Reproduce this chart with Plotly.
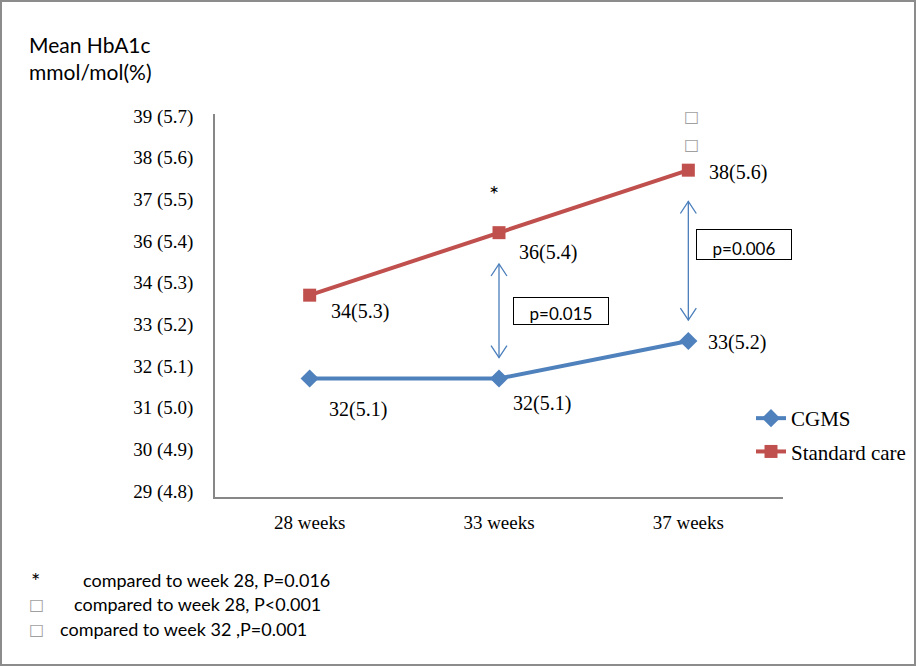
import plotly.graph_objects as go

# ---- data ----
weeks = ["28 weeks", "33 weeks", "37 weeks"]
cgms_pct = [5.07, 5.07, 5.16]
std_pct = [5.27, 5.42, 5.57]
cgms_labels = ["32(5.1)", "32(5.1)", "33(5.2)"]
std_labels = ["34(5.3)", "36(5.4)", "38(5.6)"]
ytick_vals = [4.8, 4.9, 5.0, 5.1, 5.2, 5.3, 5.4, 5.5, 5.6, 5.7]
ytick_text = ["29 (4.8)", "30 (4.9)", "31 (5.0)", "32 (5.1)", "33 (5.2)",
              "34 (5.3)", "36 (5.4)", "37 (5.5)", "38 (5.6)", "39 (5.7)"]
p_values = ["", "p=0.015", "p=0.006"]
footnotes = [("*", "compared to week 28, P=0.016"),
             ("□", "compared to week 28, P<0.001"),
             ("□", "compared to week 32 ,P=0.001")]

# ---- layout geometry ----
W, H = 916, 668
L, R, T, B = 215, 783, 114, 497
SERIF = "Liberation Serif"
SANS = "Lato"
BLUE = "#4F81BD"
RED = "#C0504D"
ARROW = "#4A7EBB"


def px(x):
    return (x - L) / (R - L)


def py(y):
    return (B - y) / (B - T)


fig = go.Figure()
fig.add_trace(go.Scatter(
    x=weeks, y=cgms_pct, name="CGMS", mode="lines+markers",
    line=dict(color=BLUE, width=4),
    marker=dict(symbol="diamond", size=14, color=BLUE),
    legendgroup="a"))
fig.add_trace(go.Scatter(
    x=weeks, y=std_pct, name="Standard care", mode="lines+markers",
    line=dict(color=RED, width=4),
    marker=dict(symbol="square", size=13, color=RED),
    legendgroup="b"))

ann = []
# data labels
cg_off = [(17, -31), (12, -25), (18, -1)]
st_off = [(19, -16), (18, -20), (19, -2)]
for i in range(3):
    ann.append(dict(x=i, y=cgms_pct[i], xref="x", yref="y", text=cgms_labels[i],
                    showarrow=False, xanchor="left", yanchor="middle",
                    xshift=cg_off[i][0], yshift=cg_off[i][1],
                    font=dict(family=SERIF, size=20, color="black")))
    ann.append(dict(x=i, y=std_pct[i], xref="x", yref="y", text=std_labels[i],
                    showarrow=False, xanchor="left", yanchor="middle",
                    xshift=st_off[i][0], yshift=st_off[i][1],
                    font=dict(family=SERIF, size=20, color="black")))

# significance marks above standard-care points
ann.append(dict(x=1, y=std_pct[1], xref="x", yref="y", text="*", showarrow=False,
                xshift=-5, yshift=39, font=dict(family=SANS, size=24, color="black")))
for ys in (54, 26):
    ann.append(dict(x=2, y=std_pct[2], xref="x", yref="y", text="□", showarrow=False,
                    xshift=3, yshift=ys,
                    font=dict(family="DejaVu Sans", size=16, color="#A0A0A0")))

shapes = []
# double-headed arrows between series + p-value boxes
hx, hy = 0.042, 0.029
box_dx = {1: 14, 2: 8}
box_dy = {1: 0.0, 2: 0.038}
box_h = {1: 26, 2: 29}
for i in (1, 2):
    y_lo = cgms_pct[i] + 0.05
    y_hi = std_pct[i] - 0.075
    shapes.append(dict(type="line", xref="x", yref="y", x0=i, x1=i, y0=y_lo, y1=y_hi,
                       line=dict(color=ARROW, width=1.3)))
    shapes.append(dict(type="path", xref="x", yref="y",
                       path=f"M {i-hx} {y_hi-hy} L {i} {y_hi} L {i+hx} {y_hi-hy}",
                       line=dict(color=ARROW, width=1.3)))
    shapes.append(dict(type="path", xref="x", yref="y",
                       path=f"M {i-hx} {y_lo+hy} L {i} {y_lo} L {i+hx} {y_lo+hy}",
                       line=dict(color=ARROW, width=1.3)))
    mid = (y_lo + y_hi) / 2 + box_dy[i]
    ann.append(dict(x=i, y=mid, xref="x", yref="y", text=p_values[i], showarrow=False,
                    xanchor="left", yanchor="middle", xshift=box_dx[i],
                    width=94, height=box_h[i], valign="bottom", align="center",
                    bordercolor="black", borderwidth=1, borderpad=0,
                    font=dict(family=SANS, size=17, color="black")))

# y axis title
ann.append(dict(x=px(27), y=py(58), xref="paper", yref="paper",
                text="Mean HbA1c<br>mmol/mol(%)", showarrow=False,
                xanchor="left", yanchor="middle", align="left",
                font=dict(family=SANS, size=21, color="black")))

# footnotes
fx_sym = [29, 27, 27]
fx_txt = [81, 72, 58]
fy = [580, 604, 629]
for (sym, txt), xs, xt, yy in zip(footnotes, fx_sym, fx_txt, fy):
    ann.append(dict(x=px(xs), y=py(yy), xref="paper", yref="paper", text=sym,
                    showarrow=False, xanchor="left", yanchor="middle",
                    font=dict(family="DejaVu Sans" if sym != "*" else SANS,
                              size=16 if sym != "*" else 22,
                              color="#A0A0A0" if sym != "*" else "black")))
    ann.append(dict(x=px(xt), y=py(604 if False else yy), xref="paper", yref="paper",
                    text=txt, showarrow=False, xanchor="left", yanchor="middle",
                    font=dict(family=SANS, size=18, color="black")))

# outer border
shapes.append(dict(type="rect", xref="paper", yref="paper",
                   x0=px(1), x1=px(915), y0=py(665), y1=py(1),
                   line=dict(color="#8C8C8C", width=2), fillcolor="rgba(0,0,0,0)"))

fig.update_layout(
    width=W, height=H, autosize=False,
    margin=dict(l=L, r=W - R, t=T, b=H - B, autoexpand=False),
    paper_bgcolor="white", plot_bgcolor="white",
    showlegend=True,
    legend=dict(x=px(751), y=py(398), xanchor="left", yanchor="top",
                font=dict(family=SERIF, size=21, color="black"),
                tracegroupgap=3, bgcolor="rgba(0,0,0,0)"),
    annotations=ann, shapes=shapes,
)
fig.update_xaxes(type="category", range=[-0.5, 2.5], showgrid=False, zeroline=False,
                 showline=True, linecolor="#878787", linewidth=1.5, ticks="",
                 ticklabelstandoff=7,
                 tickfont=dict(family=SERIF, size=19, color="black"))
fig.update_yaxes(range=[4.7856, 5.7048], tickvals=ytick_vals, ticktext=ytick_text,
                 showgrid=False, zeroline=False, showline=True, linecolor="#878787",
                 linewidth=1.5, ticks="", ticklabelstandoff=16,
                 tickfont=dict(family=SERIF, size=19, color="black"))

fig.write_html(
    "out.html",
    config={"displayModeBar": False, "responsive": False},
    post_script="document.body.style.margin='0';document.body.style.padding='0';"
                "document.body.style.overflow='hidden';"
                "document.documentElement.style.overflow='hidden';")
